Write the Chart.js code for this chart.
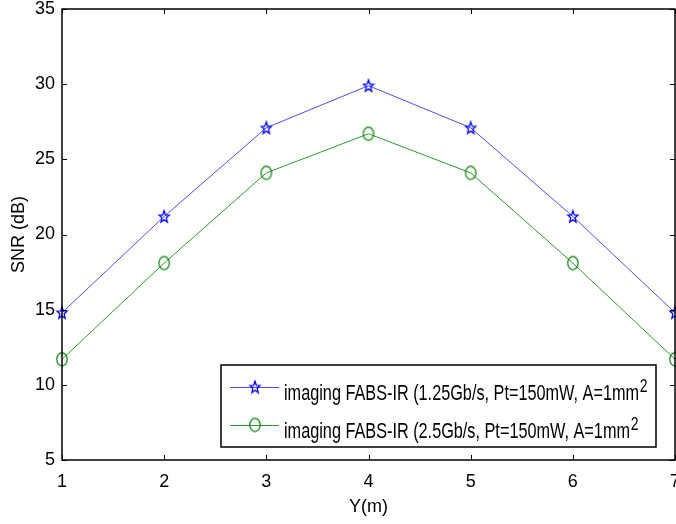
<!DOCTYPE html>
<html>
<head>
<meta charset="utf-8">
<script src="https://cdn.jsdelivr.net/npm/chart.js@4.4.1/dist/chart.umd.min.js"></script>
<style>
	html, body { margin: 0; padding: 0; background: #fff; }
	#wrap { width: 676px; height: 524px; }
</style>
</head>
<body>
<div id="wrap"><canvas id="snrChart" width="676" height="524"></canvas></div>
<script>
const positions = [1, 2, 3, 4, 5, 6, 7];
const snrFast = [14.8, 21.2, 27.1, 29.9, 27.1, 21.2, 14.8];
const snrSlow = [11.7, 18.1, 24.1, 26.7, 24.1, 18.1, 11.7];
const seriesNames = [
	'imaging FABS-IR (1.25Gb/s, Pt=150mW, A=1mm',
	'imaging FABS-IR (2.5Gb/s, Pt=150mW, A=1mm'
];
const xTicks = [1, 2, 3, 4, 5, 6, 7];
const yTicks = [5, 10, 15, 20, 25, 30, 35];

const FONT = "'Liberation Sans', Arial, sans-serif";

function starMarker(color) {
	const c = document.createElement('canvas');
	c.width = 14; c.height = 15;
	const g = c.getContext('2d');
	g.strokeStyle = color;
	g.lineWidth = 1.3;
	g.beginPath();
	for (let i = 0; i < 10; i++) {
		const r = i % 2 === 0 ? 6.3 : 2.7;
		const a = -Math.PI / 2 + i * Math.PI / 5;
		const px = 7 + r * Math.cos(a) * 0.85;
		const py = 8 + r * Math.sin(a);
		if (i === 0) g.moveTo(px, py); else g.lineTo(px, py);
	}
	g.closePath();
	g.stroke();
	return c;
}

function ringMarker(color) {
	const c = document.createElement('canvas');
	c.width = 14; c.height = 17;
	const g = c.getContext('2d');
	g.strokeStyle = color;
	g.lineWidth = 1.2;
	g.beginPath();
	g.ellipse(7, 8.5, 5.2, 6.6, 0, 0, Math.PI * 2);
	g.stroke();
	return c;
}

const blueStar = starMarker('#0000ff');
const greenRing = ringMarker('#008000');

// box, inward ticks and the legend (drawn like the matlab figure)
const matlabFrame = {
	id: 'matlabFrame',
	afterDraw(chart) {
		const ctx = chart.ctx;
		const a = chart.chartArea;
		const xs = chart.scales.x, ys = chart.scales.y;
		ctx.save();
		ctx.strokeStyle = '#000';
		ctx.lineWidth = 1.5;
		ctx.strokeRect(a.left, a.top, a.right - a.left, a.bottom - a.top);
		ctx.lineWidth = 1;
		ctx.beginPath();
		xTicks.forEach(v => {
			const px = Math.round(xs.getPixelForValue(v)) + 0.5;
			ctx.moveTo(px, a.bottom); ctx.lineTo(px, a.bottom - 5);
			ctx.moveTo(px, a.top); ctx.lineTo(px, a.top + 5);
		});
		yTicks.forEach(v => {
			const py = Math.round(ys.getPixelForValue(v)) + 0.5;
			ctx.moveTo(a.left, py); ctx.lineTo(a.left + 5, py);
			ctx.moveTo(a.right, py); ctx.lineTo(a.right - 5, py);
		});
		ctx.stroke();

		// legend
		const lx = 221, ly = 365, lw = 435, lh = 82;
		ctx.fillStyle = '#fff';
		ctx.fillRect(lx, ly, lw, lh);
		ctx.strokeStyle = '#000';
		ctx.lineWidth = 1.5;
		ctx.strokeRect(lx, ly, lw, lh);
		ctx.font = '22px ' + FONT;
		const sx = 355 / ctx.measureText(chart.data.datasets[0].label).width;
		const lines = [387, 425];
		const baselines = [400, 438];
		chart.data.datasets.forEach((ds, i) => {
			const y = lines[i];
			ctx.strokeStyle = ds.borderColor;
			ctx.lineWidth = 1;
			ctx.beginPath();
			ctx.moveTo(230, y + 0.5); ctx.lineTo(279, y + 0.5);
			ctx.stroke();
			const m = ds.pointStyle;
			ctx.drawImage(m, 255 - m.width / 2, y - m.height / 2);
			ctx.fillStyle = '#000';
			ctx.font = '22px ' + FONT;
			ctx.textBaseline = 'alphabetic';
			ctx.textAlign = 'left';
			ctx.save();
			ctx.translate(284, baselines[i]);
			ctx.scale(sx, 1);
			ctx.fillText(ds.label, 0, 0);
			const w = ctx.measureText(ds.label).width;
			ctx.font = '19px ' + FONT;
			ctx.fillText('2', w + 1, -8);
			ctx.restore();
		});
		ctx.restore();
	}
};

new Chart(document.getElementById('snrChart'), {
	type: 'line',
	data: {
		datasets: [{
			label: seriesNames[0],
			data: positions.map((x, i) => ({ x: x, y: snrFast[i] })),
			borderColor: '#4d4dff',
			borderWidth: 1,
			pointStyle: blueStar,
			clip: false,
			tension: 0
		}, {
			label: seriesNames[1],
			data: positions.map((x, i) => ({ x: x, y: snrSlow[i] })),
			borderColor: '#2e9a2e',
			borderWidth: 1,
			pointStyle: greenRing,
			clip: false,
			tension: 0
		}]
	},
	options: {
		responsive: false,
		animation: false,
		layout: { autoPadding: false, padding: { top: 9, right: 1, left: 0, bottom: 0 } },
		plugins: {
			legend: { display: false },
			tooltip: { enabled: false }
		},
		scales: {
			x: {
				type: 'linear',
				min: 1,
				max: 7,
				afterBuildTicks: s => { s.ticks = xTicks.map(v => ({ value: v })); },
				afterFit: s => { s.height = 64; s.paddingLeft = 0; s.paddingRight = 0; },
				grid: { display: false, drawTicks: false },
				border: { display: false },
				ticks: { color: '#000', padding: 11, maxRotation: 0, font: { family: FONT, size: 18 } },
				title: {
					display: true,
					text: 'Y(m)',
					color: '#000',
					padding: { bottom: 6, top: 0 },
					font: { family: FONT, size: 18 }
				}
			},
			y: {
				min: 5,
				max: 35,
				afterBuildTicks: s => { s.ticks = yTicks.map(v => ({ value: v })); },
				afterFit: s => { s.width = 62; s.paddingTop = 0; s.paddingBottom = 0; },
				grid: { display: false, drawTicks: false },
				border: { display: false },
				ticks: { color: '#000', padding: 7, font: { family: FONT, size: 18 } },
				title: {
					display: true,
					text: 'SNR (dB)',
					color: '#000',
					padding: { top: 8, bottom: 0 },
					font: { family: FONT, size: 18 }
				}
			}
		}
	},
	plugins: [matlabFrame]
});
</script>
</body>
</html>
